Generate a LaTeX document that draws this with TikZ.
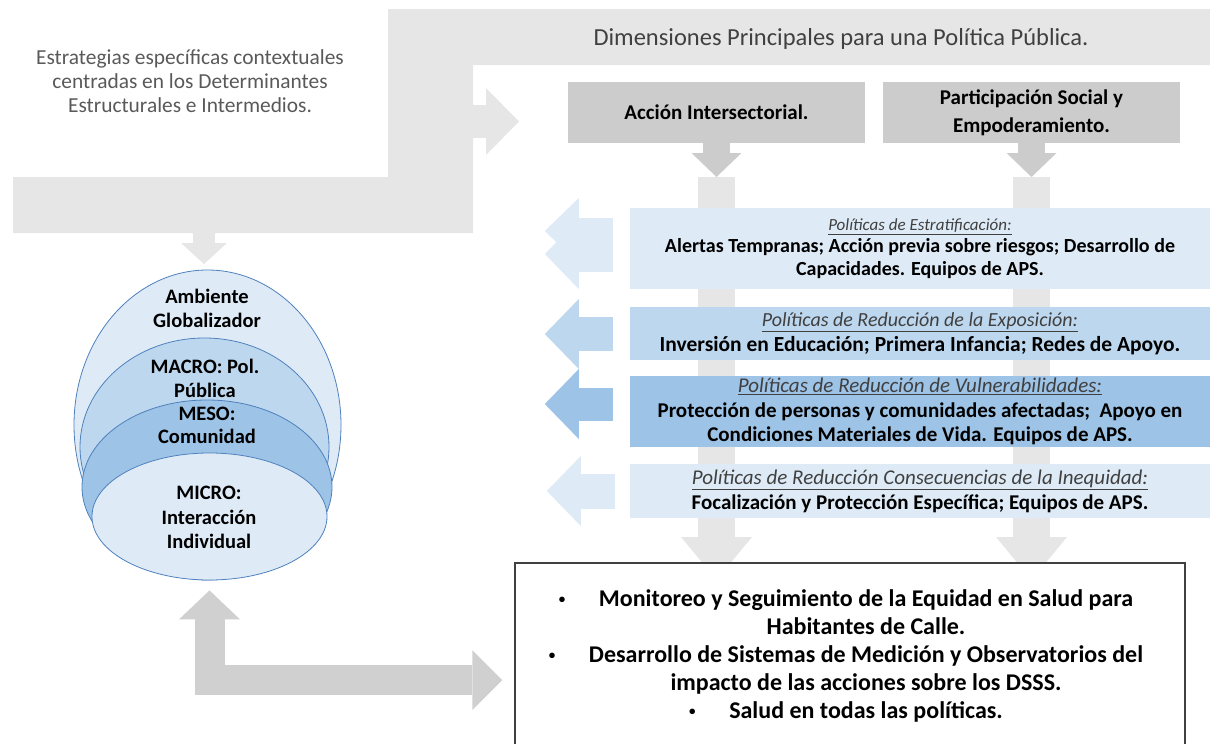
\documentclass[tikz,border=0pt]{standalone}
\usepackage{fontspec}
\setmainfont{Carlito}
\usepackage{xcolor}
\usepackage{tikz}
\usetikzlibrary{calc, arrows.meta, positioning, shapes}

\definecolor{lgray}{HTML}{E6E6E6}
\definecolor{mgray}{HTML}{CCCCCC}
\definecolor{bgray}{HTML}{D0D0D0}
\definecolor{blueA}{HTML}{DEEBF7}
\definecolor{blueB}{HTML}{BDD7EE}
\definecolor{blueC}{HTML}{9DC3E6}
\definecolor{bline}{HTML}{4F81BD}
\definecolor{tgray}{HTML}{595959}
\definecolor{dgray}{HTML}{404040}

\newcommand{\polt}[2]{{\fontsize{#1}{#1}\selectfont\color{dgray}\textmd{\textit{\underline{#2}}}}}
\newcommand{\bul}{\llap{\raisebox{3pt}{\fontsize{13}{13}\selectfont\textbullet}\hspace{1.4em}}}

\begin{document}
\begin{tikzpicture}[x=1pt, y=-1pt]
		\tikzstyle{head} = [rectangle, fill=mgray, minimum width=297pt, minimum height=61pt, inner sep=0pt, align=center, font=\fontsize{21}{28}\selectfont\bfseries]
		\tikzstyle{pol} = [rectangle, minimum width=580pt, inner sep=0pt, align=center]
		\tikzstyle{zone} = [ellipse, draw=bline, line width=0.8pt, inner sep=0pt]
		\tikzstyle{zonet} = [align=center, font=\fontsize{20.5}{23.5}\selectfont\bfseries]
		\tikzstyle{darrow} = [draw=mgray, line width=27pt, -{Triangle[length=24pt, width=50pt, line width=0pt]}]
		\tikzstyle{longarrow} = [draw=lgray, line width=37pt, -{Triangle[length=43pt, width=71pt, line width=0pt]}]
		\tikzstyle{larrow} = [-{Triangle[length=34pt, width=70pt, line width=0pt]}]
		
		\useasboundingbox (0, 0) rectangle (1210, 744);
		
		\fill[lgray] (13, 177) -- (388, 177) -- (388, 9) -- (1210, 9) -- (1210, 65) -- (473, 65) -- (473, 233) -- (13, 233) -- cycle;
		
		\coordinate (c1) at (716.5, 177);
		\coordinate (c2) at (1031.5, 177);
		\coordinate (c3) at (716.5, 580);
		\coordinate (c4) at (1031.5, 580);
		\coordinate (c5) at (470, 121.5);
		\coordinate (c6) at (519, 121.5);
		\coordinate (c7) at (204, 232);
		\coordinate (c8) at (204, 264);
		
		\node[align=center, text=tgray, font=\fontsize{21.4}{24}\selectfont] at (190, 81) (q0) {Estrategias específicas contextuales\\centradas en los Determinantes\\Estructurales e Intermedios.};
		\node[text=dgray, font=\fontsize{24.5}{26}\selectfont] at (841, 39) (q3) {Dimensiones Principales para una Política Pública.};
		
		\node[head] at (716.5, 112.5) (q1) {Acción Intersectorial.};
		\node[head] at (1031.5, 112.5) (q2) {Participación Social y\\Empoderamiento.};
		
		\draw[draw=lgray, line width=33pt, -{Triangle[length=33pt, width=67pt, line width=0pt]}] (c5) -- (c6);
		\draw[draw=lgray, line width=22pt, -{Triangle[length=21pt, width=46pt, line width=0pt]}] (c7) -- (c8);
		
		\draw[darrow] (q1.south) -- (c1);
		\draw[darrow] (q2.south) -- (c2);
		\draw[longarrow] (c1) -- (c3);
		\draw[longarrow] (c2) -- (c4);
		
		\node[pol, fill=blueA, minimum height=81pt, font=\fontsize{20}{22.5}\selectfont\bfseries] at (920, 248.5) (q10) {\polt{17}{Políticas de Estratificación:}\\Alertas Tempranas; Acción previa sobre riesgos; Desarrollo de\\Capacidades. Equipos de APS.};
		\node[pol, fill=blueB, minimum height=53pt, font=\fontsize{21.5}{25}\selectfont\bfseries] at (920, 333.5) (q11) {\polt{20}{Políticas de Reducción de la Exposición:}\\Inversión en Educación; Primera Infancia; Redes de Apoyo.};
		\node[pol, fill=blueC, minimum height=71pt, font=\fontsize{21}{24.5}\selectfont\bfseries] at (920, 411.5) (q12) {\polt{21}{Políticas de Reducción de Vulnerabilidades:}\\Protección de personas y comunidades afectadas;\ \ Apoyo en\\Condiciones Materiales de Vida. Equipos de APS.};
		\node[pol, fill=blueA, minimum height=54pt, font=\fontsize{21}{25}\selectfont\bfseries] at (920, 491) (q13) {\polt{21}{Políticas de Reducción Consecuencias de la Inequidad:}\\Focalización y Protección Específica; Equipos de APS.};
		
		\draw[larrow, draw=blueA, line width=35pt] ($(q10.west)+(-17, 5.5)$) -- +(-68, 0);
		\draw[draw=blueA, line width=26pt, -{Triangle[length=34pt, width=66pt, line width=0pt]}] ($(q10.west)+(-17, -17.5)$) -- +(-68, 0);
		\draw[larrow, draw=blueB, line width=34pt] ($(q11.west)+(-17, 0.5)$) -- +(-68, 0);
		\draw[larrow, draw=blueC, line width=33pt] ($(q12.west)+(-17, -7.5)$) -- +(-68, 0);
		\draw[larrow, draw=blueA, line width=35pt] ($(q13.west)+(-15, 0)$) -- +(-68, 0);
		
		\node[zone, fill=blueA, minimum width=267pt, minimum height=310pt] at (207.5, 425) (q20) {};
		\node[zone, fill=blueB, minimum width=249pt, minimum height=218pt] at (204.5, 447) (q21) {};
		\node[zone, fill=blueC, minimum width=250pt, minimum height=174pt] at (207, 487) (q22) {};
		\node[zone, fill=blueA, minimum width=235pt, minimum height=127pt] at (209.5, 516.5) (q23) {};
		
		\node[zonet] at (207, 308.5) (q24) {Ambiente\\Globalizador};
		\node[zonet] at (205, 378.5) (q25) {MACRO: Pol.\\Pública};
		\node[zonet] at (207, 425.5) (q26) {MESO:\\Comunidad};
		\node[zonet, font=\fontsize{20.5}{24.5}\selectfont\bfseries] at (209, 517.5) (q27) {MICRO:\\Interacción\\Individual};
		
		\node[rectangle, draw=dgray, line width=1.5pt, fill=white, minimum width=670pt, minimum height=234pt] at (850, 680) (q30) {};
		\node[align=center, font=\fontsize{24}{28}\selectfont\bfseries] at (866, 656) (q31) {\bul Monitoreo y Seguimiento de la Equidad en Salud para\\Habitantes de Calle.\\\bul Desarrollo de Sistemas de Medición y Observatorios del\\impacto de las acciones sobre los DSSS.\\\bul Salud en todas las políticas.};
		
		\draw[draw=bgray, line width=30pt, {Triangle[length=29pt, width=61pt, line width=0pt]}-{Triangle[length=30pt, width=60pt, line width=0pt]}] ([yshift=-10pt]q23.south) |- ([xshift=-12pt]q30.west);
		
	\end{tikzpicture}
\end{document}
